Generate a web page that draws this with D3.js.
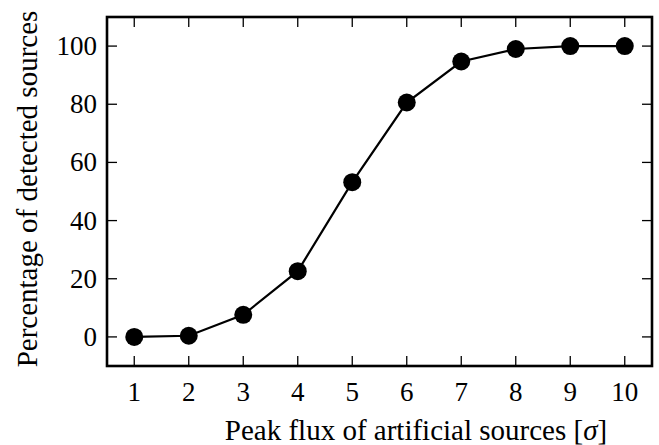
<!DOCTYPE html>
<html>
<head>
<meta charset="utf-8">
<script src="https://cdn.jsdelivr.net/npm/d3@7"></script>
<style>
  body { margin: 0; background: #fff; }
</style>
</head>
<body>
<script>
// data
var flux = [1, 2, 3, 4, 5, 6, 7, 8, 9, 10];
var detected = [0, 0.4, 7.6, 22.6, 53.2, 80.6, 94.7, 99, 100, 100];
var xTicks = [1, 2, 3, 4, 5, 6, 7, 8, 9, 10];
var yTicks = [0, 20, 40, 60, 80, 100];

var W = 659, H = 445;
var margin = {top: 17, right: 7, bottom: 79, left: 107},
    width = W - margin.left - margin.right,
    height = H - margin.top - margin.bottom;
var serif = "Liberation Serif";

var svg = d3.select("body").append("svg")
    .attr("width", W)
    .attr("height", H)
    .attr("font-family", serif);

var g = svg.append("g")
    .attr("transform", "translate(" + margin.left + "," + margin.top + ")");

var x = d3.scaleLinear().domain([0.5, 10.5]).range([0, width]);
var y = d3.scaleLinear().domain([-10, 110]).range([height, 0]);

var tickLen = 10;

// inward ticks on all four sides
g.selectAll(".xtick-b").data(xTicks).enter().append("line")
    .attr("x1", x).attr("x2", x)
    .attr("y1", height).attr("y2", height - tickLen);
g.selectAll(".xtick-t").data(xTicks).enter().append("line")
    .attr("x1", x).attr("x2", x)
    .attr("y1", 0).attr("y2", tickLen);
g.selectAll(".ytick-l").data(yTicks).enter().append("line")
    .attr("x1", 0).attr("x2", tickLen)
    .attr("y1", y).attr("y2", y);
g.selectAll(".ytick-r").data(yTicks).enter().append("line")
    .attr("x1", width).attr("x2", width - tickLen)
    .attr("y1", y).attr("y2", y);
g.selectAll("line").attr("stroke", "#000").attr("stroke-width", 1.3);

// tick labels
g.selectAll(".xlab").data(xTicks).enter().append("text")
    .attr("x", x)
    .attr("y", height + 35)
    .attr("font-family", serif)
    .attr("font-size", 27)
    .attr("text-anchor", "middle")
    .text(function(d) { return d; });
g.selectAll(".ylab").data(yTicks).enter().append("text")
    .attr("x", -10)
    .attr("y", function(d) { return y(d) + 9; })
    .attr("font-family", serif)
    .attr("font-size", 27)
    .attr("text-anchor", "end")
    .text(function(d) { return d; });

// frame
g.append("rect")
    .attr("x", 0).attr("y", 0)
    .attr("width", width).attr("height", height)
    .attr("fill", "none")
    .attr("stroke", "#000")
    .attr("stroke-width", 2.6);

var line = d3.line()
    .x(function(d, i) { return x(flux[i]); })
    .y(function(d) { return y(d); });

g.append("path")
    .datum(detected)
    .attr("fill", "none")
    .attr("stroke", "#000")
    .attr("stroke-width", 2.2)
    .attr("d", line);

g.selectAll("circle")
    .data(detected)
    .enter()
    .append("circle")
    .attr("cx", function(d, i) { return x(flux[i]); })
    .attr("cy", function(d) { return y(d); })
    .attr("r", 9)
    .attr("fill", "#000");

// axis labels
svg.append("text")
    .attr("x", 416)
    .attr("y", 440)
    .attr("font-family", serif)
    .attr("font-size", 29)
    .attr("text-anchor", "middle")
    .html("Peak flux of artificial sources [<tspan font-style='italic'>σ</tspan>]");

svg.append("text")
    .attr("transform", "translate(37,189) rotate(-90)")
    .attr("font-family", serif)
    .attr("font-size", 29)
    .attr("text-anchor", "middle")
    .text("Percentage of detected sources");
</script>
</body>
</html>
